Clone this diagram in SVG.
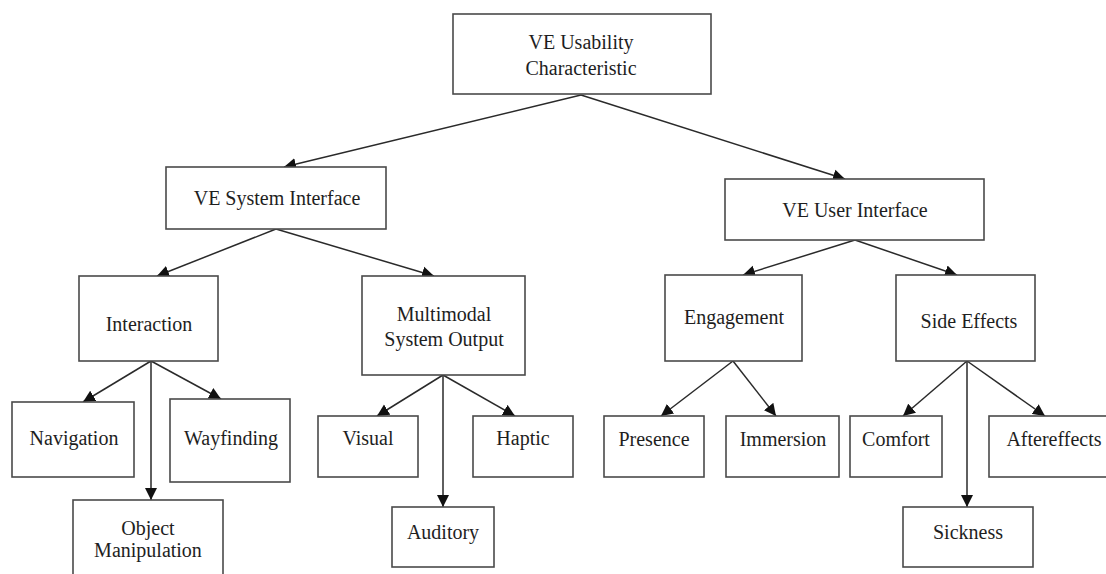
<svg xmlns="http://www.w3.org/2000/svg" width="1106" height="574" viewBox="0 0 1106 574">
  <style>
    .box { fill: #ffffff; stroke: #4a4a4a; stroke-width: 1.6; }
    .label { font-family: "Liberation Serif", "DejaVu Serif", serif; font-size: 20px; fill: #1e1e1e; text-anchor: middle; }
    .edge { fill: none; stroke: #2a2a2a; stroke-width: 1.5; marker-end: url(#arrow); }
  </style>
  <defs>
    <marker id="arrow" markerUnits="userSpaceOnUse" markerWidth="13" markerHeight="13" refX="12" refY="6.5" orient="auto">
      <path d="M0,0.5 L12,6.5 L0,12.5 z" fill="#111111"/>
    </marker>
  </defs>
  <rect width="1106" height="574" fill="#ffffff"/>

  <!-- connectors: parent bottom-centre to child top -->
  <g id="connectors">
    <line class="edge" x1="581" y1="95" x2="284" y2="167"/>
    <line class="edge" x1="581" y1="95" x2="845" y2="179"/>
    <line class="edge" x1="276" y1="229" x2="157" y2="276"/>
    <line class="edge" x1="276" y1="229" x2="434" y2="276"/>
    <line class="edge" x1="855" y1="240" x2="743" y2="275"/>
    <line class="edge" x1="855" y1="240" x2="957" y2="275"/>
    <line class="edge" x1="151" y1="361" x2="83" y2="402"/>
    <line class="edge" x1="151" y1="361" x2="151" y2="500"/>
    <line class="edge" x1="151" y1="361" x2="221" y2="399"/>
    <line class="edge" x1="443" y1="375" x2="377" y2="416"/>
    <line class="edge" x1="443" y1="375" x2="443" y2="507"/>
    <line class="edge" x1="443" y1="375" x2="515" y2="416"/>
    <line class="edge" x1="733" y1="361" x2="661" y2="416"/>
    <line class="edge" x1="733" y1="361" x2="776" y2="416"/>
    <line class="edge" x1="967" y1="361" x2="903" y2="416"/>
    <line class="edge" x1="967" y1="361" x2="967" y2="507"/>
    <line class="edge" x1="967" y1="361" x2="1045" y2="416"/>
  </g>

  <!-- nodes -->
  <g id="ve-usability">
    <rect class="box" x="453" y="14" width="258" height="80"/>
    <text class="label" x="581" y="49">VE Usability</text>
    <text class="label" x="581" y="75">Characteristic</text>
  </g>
  <g id="ve-system-interface">
    <rect class="box" x="166" y="167" width="220" height="62"/>
    <text class="label" x="277" y="205">VE System Interface</text>
  </g>
  <g id="ve-user-interface">
    <rect class="box" x="725" y="179" width="259" height="61"/>
    <text class="label" x="855" y="217">VE User Interface</text>
  </g>
  <g id="interaction">
    <rect class="box" x="79" y="276" width="139" height="85"/>
    <text class="label" x="149" y="331">Interaction</text>
  </g>
  <g id="multimodal-system-output">
    <rect class="box" x="362" y="276" width="163" height="99"/>
    <text class="label" x="444" y="321">Multimodal</text>
    <text class="label" x="444" y="346">System Output</text>
  </g>
  <g id="engagement">
    <rect class="box" x="665" y="275" width="137" height="86"/>
    <text class="label" x="734" y="324">Engagement</text>
  </g>
  <g id="side-effects">
    <rect class="box" x="896" y="275" width="139" height="86"/>
    <text class="label" x="969" y="328">Side Effects</text>
  </g>
  <g id="navigation">
    <rect class="box" x="12" y="402" width="122" height="75"/>
    <text class="label" x="74" y="445">Navigation</text>
  </g>
  <g id="wayfinding">
    <rect class="box" x="170" y="399" width="120" height="83"/>
    <text class="label" x="231" y="445">Wayfinding</text>
  </g>
  <g id="object-manipulation">
    <rect class="box" x="73" y="500" width="150" height="90"/>
    <text class="label" x="148" y="535">Object</text>
    <text class="label" x="148" y="557">Manipulation</text>
  </g>
  <g id="visual">
    <rect class="box" x="318" y="416" width="100" height="61"/>
    <text class="label" x="368" y="445">Visual</text>
  </g>
  <g id="haptic">
    <rect class="box" x="473" y="416" width="100" height="61"/>
    <text class="label" x="523" y="445">Haptic</text>
  </g>
  <g id="auditory">
    <rect class="box" x="392" y="507" width="102" height="60"/>
    <text class="label" x="443" y="539">Auditory</text>
  </g>
  <g id="presence">
    <rect class="box" x="604" y="416" width="100" height="61"/>
    <text class="label" x="654" y="446">Presence</text>
  </g>
  <g id="immersion">
    <rect class="box" x="726" y="416" width="113" height="61"/>
    <text class="label" x="783" y="446">Immersion</text>
  </g>
  <g id="comfort">
    <rect class="box" x="850" y="416" width="92" height="61"/>
    <text class="label" x="896" y="446">Comfort</text>
  </g>
  <g id="aftereffects">
    <rect class="box" x="989" y="416" width="130" height="61"/>
    <text class="label" x="1054" y="446">Aftereffects</text>
  </g>
  <g id="sickness">
    <rect class="box" x="903" y="507" width="130" height="60"/>
    <text class="label" x="968" y="539">Sickness</text>
  </g>
</svg>
